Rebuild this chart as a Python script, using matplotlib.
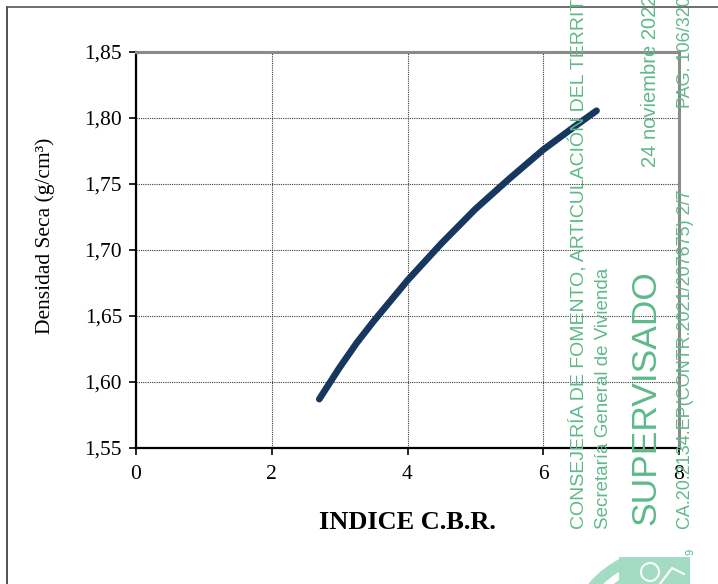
import matplotlib
matplotlib.use("Agg")
import matplotlib.pyplot as plt
from matplotlib.lines import Line2D
from matplotlib.patches import Wedge, Rectangle

# Density–CBR curve
cbr = [2.70, 2.85, 3.00, 3.25, 3.50, 4.00, 4.50, 5.00, 5.50, 6.00, 6.50, 6.785]
density = [1.587, 1.599, 1.611, 1.6295, 1.646, 1.677, 1.705, 1.731, 1.754, 1.776, 1.795, 1.8055]

x_ticks = [0, 2, 4, 6, 8]
x_tick_labels = ["0", "2", "4", "6", "8"]
y_ticks = [1.55, 1.60, 1.65, 1.70, 1.75, 1.80, 1.85]
y_tick_labels = ["1,55", "1,60", "1,65", "1,70", "1,75", "1,80", "1,85"]

W, H = 718, 584
fig = plt.figure(figsize=(W / 100, H / 100), dpi=100)
fig.patch.set_facecolor("white")

serif = "Liberation Serif"
ax = fig.add_axes([136 / W, 1 - 448 / H, (679 - 136) / W, (448 - 52) / H])
ax.plot(cbr, density, color="#17375e", lw=4.8, solid_capstyle="round",
        solid_joinstyle="round", zorder=3)

ax.set_xlim(0, 8)
ax.set_ylim(1.55, 1.85)
ax.set_xticks(x_ticks)
ax.set_xticklabels(x_tick_labels, fontfamily=serif, fontsize=15.5)
ax.set_yticks(y_ticks)
ax.set_yticklabels(y_tick_labels, fontfamily=serif, fontsize=15.5)
ax.tick_params(direction="out", length=5, width=1.2, color="black", pad=5)
ax.tick_params(axis="x", pad=7)

ax.grid(True, color="#3a3a3a", lw=0.8, linestyle=(0, (1, 1)))
ax.set_axisbelow(True)

for side in ("left", "bottom"):
    ax.spines[side].set_color("black")
    ax.spines[side].set_linewidth(1.6)
for side in ("top", "right"):
    ax.spines[side].set_color("#8a8a8a")
    ax.spines[side].set_linewidth(2.2)

ax.set_xlabel("INDICE C.B.R.", fontfamily=serif, fontsize=19, fontweight="bold",
              labelpad=20)
ax.set_ylabel("Densidad Seca (g/cm³)", fontfamily=serif, fontsize=15.5)
ax.yaxis.set_label_coords(-0.149, 0.535)

# Overlay in pixel coordinates for the page frame and the stamp
ov = fig.add_axes([0, 0, 1, 1], zorder=5)
ov.set_xlim(0, W)
ov.set_ylim(H, 0)
ov.axis("off")
ov.patch.set_alpha(0)

ov.add_line(Line2D([7, 7], [7, H], color="#333333", lw=1.2))
ov.add_line(Line2D([7, W], [7, 7], color="#555555", lw=1.2))

green = "#5fb98a"
sans = "Liberation Sans"
ov.text(579, 529, "CONSEJERÍA DE FOMENTO, ARTICULACIÓN DEL TERRITORIO Y VIVIENDA",
        rotation=90, ha="center", va="bottom", color=green, fontsize=14, fontfamily=sans)
ov.text(603, 529, "Secretaría General de Vivienda", rotation=90, ha="center",
        va="bottom", color=green, fontsize=13.5, fontfamily=sans)
ov.text(646, 525, "SUPERVISADO", rotation=90, ha="center", va="bottom",
        color=green, fontsize=25.5, fontfamily=sans)
ov.text(650, 167, "24 noviembre 2022", rotation=90, ha="center", va="bottom",
        color=green, fontsize=14.5, fontfamily=sans)
ov.text(686, 529, "CA.20.2134.EP(CONTR.2021/207675) 2/7", rotation=90, ha="center",
        va="bottom", color=green, fontsize=13, fontfamily=sans)
ov.text(686, 108, "PAG: 106/3200", rotation=90, ha="center", va="bottom",
        color=green, fontsize=13, fontfamily=sans)
ov.text(690, 552, "9", rotation=90, ha="center", va="center", color=green,
        fontsize=8, fontfamily=sans)

logo = "#a3dcc2"
ov.add_patch(Wedge((665, 648), 100, 198, 244, width=11, color=logo, lw=0))
ov.add_patch(Wedge((665, 648), 82, 203, 240, width=8, color=logo, lw=0))
ov.add_patch(Rectangle((619, 557), 71, 30, color=logo, lw=0))
ov.add_patch(Wedge((650, 572), 10, 0, 360, width=2, color="white", lw=0))
ov.add_line(Line2D([660, 672, 684], [584, 568, 574], color="white", lw=1.5))

fig.savefig("out.png", dpi=100)
